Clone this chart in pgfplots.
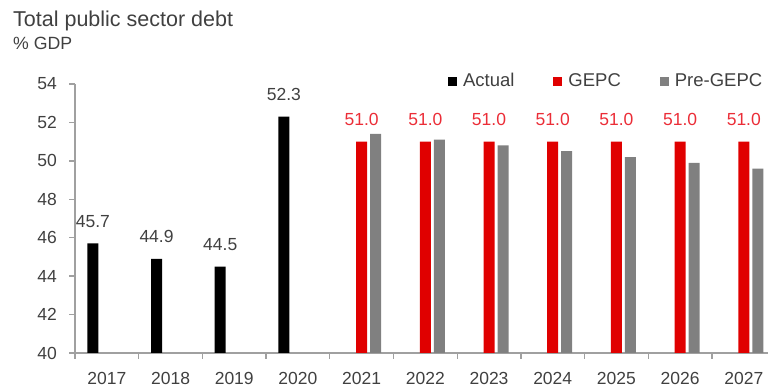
\documentclass[border=0pt]{standalone}
\usepackage{fontspec}
\setmainfont{Liberation Sans}
\usepackage{pgfplots}
\pgfplotsset{compat=1.18}
\definecolor{gred}{RGB}{224,0,0}
\definecolor{ggray}{RGB}{128,128,128}
\definecolor{axgray}{RGB}{160,160,160}
\definecolor{txt}{RGB}{64,64,64}
\definecolor{lblred}{RGB}{235,45,55}
\begin{document}
\begin{tikzpicture}
\useasboundingbox (-75pt,-37pt) rectangle (693pt,353pt);
\begin{axis}[
  at={(0pt,0pt)}, anchor=south west,
  scale only axis, width=693pt, height=269pt,
  xmin=-0.5, xmax=10.38, ymin=40, ymax=54,
  ytick={40,42,...,54},
  xtick={-0.5,0.5,1.5,2.5,3.5,4.5,5.5,6.5,7.5,8.5,9.5},
  xticklabels={2017,2018,2019,2020,2021,2022,2023,2024,2025,2026,2027},
  ybar=3pt, bar width=11pt,
  axis x line*=bottom, axis y line*=left,
  axis line style={draw=axgray, line width=1.3pt, -},
  tick style={draw=axgray, line width=1.3pt},
  tick align=outside, major tick length=6pt,
  /pgf/number format/assume math mode=true,
  ticklabel style={text=txt, font=\fontsize{17.5}{20}\selectfont},
  xticklabel style={anchor=base, inner sep=0pt, xshift=31.85pt, yshift=-26pt},
  yticklabel style={anchor=east, inner sep=0pt, xshift=-12pt},
  legend columns=3,
  legend style={draw=none, fill=none, at={(0.538,1.011)}, anchor=west,
    font=\fontsize{18.5}{20}\selectfont, text=txt, inner sep=0pt,
    nodes={inner sep=0pt},
    /tikz/every odd column/.style={column sep=6pt},
    /tikz/every even column/.style={column sep=39pt}},
  legend image code/.code={\fill[#1] (0pt,-4.5pt) rectangle (9pt,4.5pt);},
]
\addplot[fill=black, draw=none,
  nodes near coords={\pgfmathprintnumber[fixed,fixed zerofill,precision=1]{\pgfplotspointmeta}},
  every node near coord/.append style={text=txt, font=\fontsize{17.5}{20}\selectfont, anchor=base, inner sep=0pt, yshift=16pt}]
  coordinates {(0,45.7) (1,44.9) (2,44.5) (3,52.3)};
\addlegendentry{Actual}
\addplot[fill=gred, draw=none,
  nodes near coords={\pgfmathprintnumber[fixed,fixed zerofill,precision=1]{\pgfplotspointmeta}},
  every node near coord/.append style={text=lblred, font=\fontsize{17.5}{20}\selectfont, anchor=base, inner sep=0pt, yshift=16pt}]
  coordinates {(4,51.0) (5,51.0) (6,51.0) (7,51.0) (8,51.0) (9,51.0) (10,51.0)};
\addlegendentry{GEPC}
\addplot[fill=ggray, draw=none]
  coordinates {(4,51.4) (5,51.1) (6,50.8) (7,50.5) (8,50.2) (9,49.9) (10,49.6)};
\addlegendentry{Pre-GEPC}
\end{axis}
\node[anchor=base west, inner sep=0pt, text=txt, font=\fontsize{21.5}{24}\selectfont] at (-62pt,326pt) {Total public sector debt};
\node[anchor=base west, inner sep=0pt, text=txt, font=\fontsize{17.7}{20}\selectfont] at (-62pt,303pt) {\% GDP};
\end{tikzpicture}
\end{document}
